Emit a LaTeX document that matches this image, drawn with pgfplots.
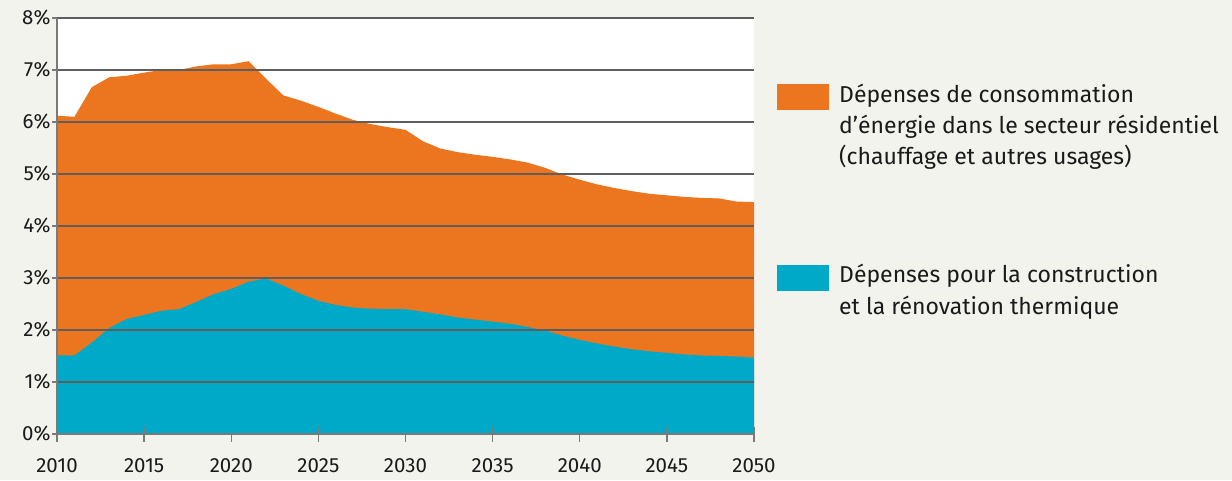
\documentclass[border=0pt]{standalone}
\usepackage{pgfplots}
\usepackage{pgfplotstable}
\usepackage{fontspec}
\pgfplotsset{compat=1.18}
\setmainfont{Fira Sans}

\definecolor{bgc}{HTML}{F3F3EE}
\definecolor{orangeA}{HTML}{EC7520}
\definecolor{blueA}{HTML}{00A9C8}
\definecolor{gridc}{HTML}{5E5E5E}
\definecolor{axc}{HTML}{7A7A7A}
\definecolor{txt}{HTML}{1A1A1A}

% année, construction/rénovation (%), total (%)
\pgfplotstableread{
year blue total
2010 1.51 6.12
2011 1.51 6.10
2012 1.76 6.67
2013 2.04 6.86
2014 2.21 6.89
2015 2.29 6.95
2016 2.37 7.00
2017 2.40 7.00
2018 2.54 7.07
2019 2.69 7.11
2020 2.79 7.11
2021 2.93 7.17
2022 2.99 6.83
2023 2.85 6.51
2024 2.69 6.41
2025 2.56 6.29
2026 2.48 6.16
2027 2.43 6.04
2028 2.41 5.96
2029 2.40 5.90
2030 2.40 5.85
2031 2.35 5.63
2032 2.30 5.49
2033 2.24 5.42
2034 2.20 5.37
2035 2.16 5.33
2036 2.12 5.28
2037 2.06 5.22
2038 1.99 5.12
2039 1.89 4.99
2040 1.81 4.89
2041 1.74 4.80
2042 1.68 4.73
2043 1.63 4.67
2044 1.59 4.62
2045 1.56 4.59
2046 1.53 4.56
2047 1.51 4.54
2048 1.50 4.53
2049 1.49 4.47
2050 1.47 4.46
}\data

\begin{document}
\begin{tikzpicture}
\fill[bgc] (0,0) rectangle (1232pt,480pt);
\begin{axis}[
    at={(57pt,46pt)}, anchor=south west,
    scale only axis,
    width=697pt, height=416pt,
    xmin=0, xmax=40,
    ymin=0, ymax=8,
    axis lines*=left,
    axis line style={axc, line width=1.3pt},
    axis background/.style={fill=white},
    axis on top,
    xtick={0,5,...,40},
    xticklabels={2010,2015,2020,2025,2030,2035,2040,2045,2050},
    ytick={0,1,...,8},
    yticklabels={0\%,1\%,2\%,3\%,4\%,5\%,6\%,7\%,8\%},
    xtick align=center,
    major tick length=15pt,
    ytick style={draw=none},
    xtick style={axc, line width=1.3pt},
    ymajorgrids=true,
    grid style={gridc, line width=1.3pt},
    tick label style={font=\fontsize{20.5}{24}\selectfont, text=txt},
    xticklabel style={yshift=-14pt},
    yticklabel style={xshift=-3pt},
    clip=false,
]
\addplot[draw=none, fill=orangeA] table[x expr=\thisrow{year}-2010, y=total] {\data} \closedcycle;
\addplot[draw=none, fill=blueA] table[x expr=\thisrow{year}-2010, y=blue] {\data} \closedcycle;
\pgfplotsinvokeforeach{0,...,8}{
  \draw[axc, line width=1.3pt] (axis cs:0,#1) -- ++(-5pt,0);
}
\end{axis}
\fill[orangeA] (777pt,370pt) rectangle (829pt,396pt);
\fill[blueA] (777pt,189pt) rectangle (829pt,215pt);
\begin{scope}[every node/.style={anchor=base west, inner sep=0pt, text=txt, font=\fontsize{23}{27}\selectfont}]
\node at (839pt,377pt) {Dépenses de consommation};
\node at (839pt,346pt) {d’énergie dans le secteur résidentiel};
\node at (839pt,315pt) {(chauffage et autres usages)};
\node at (839pt,197pt) {Dépenses pour la construction};
\node at (839pt,166pt) {et la rénovation thermique};
\end{scope}
\end{tikzpicture}
\end{document}
